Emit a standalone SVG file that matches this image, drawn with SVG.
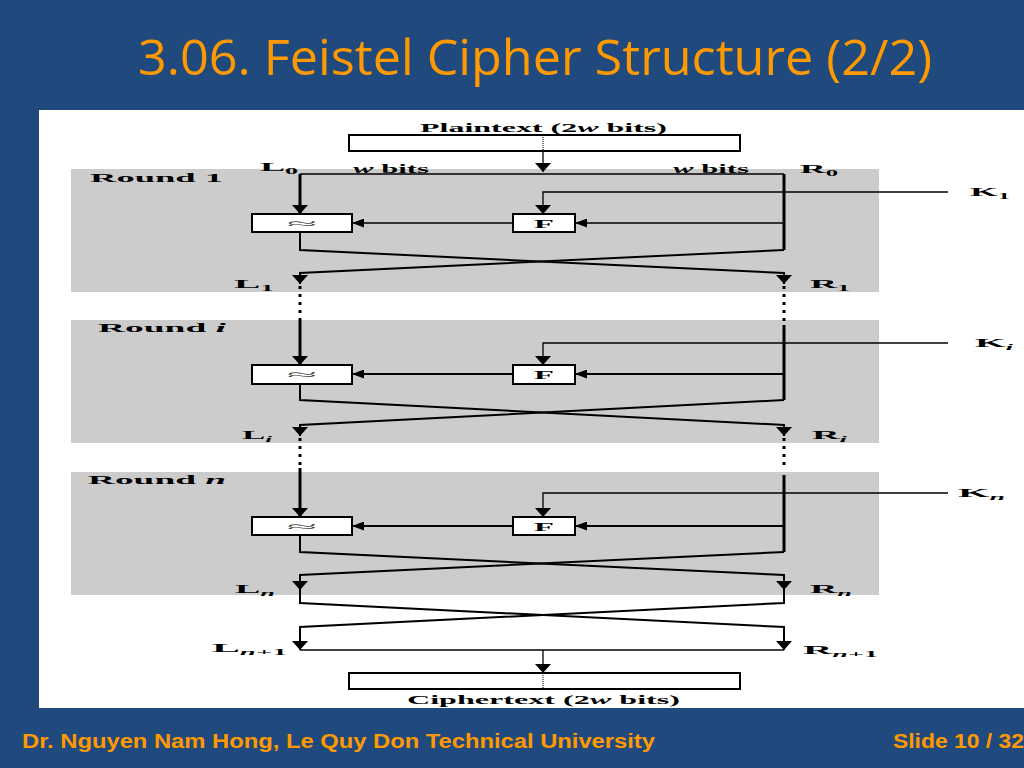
<svg xmlns="http://www.w3.org/2000/svg" width="1024" height="768" viewBox="0 0 1024 768">
<style>
.lbl{font-family:"Liberation Serif","DejaVu Serif",serif;font-weight:bold;font-size:13px;fill:#000}
.xs{font-family:"Liberation Serif","DejaVu Serif",serif;font-size:13px;fill:#444}
.sub{font-size:9px}
.it{font-style:italic}
.round{fill:#cccccc}
.box{fill:#fff;stroke:#000;stroke-width:2}
.thick{fill:none;stroke:#000;stroke-width:3}
.mid{fill:none;stroke:#000;stroke-width:2}
.thin{fill:none;stroke:#000;stroke-width:1.3}
.dash{fill:none;stroke:#000;stroke-width:3;stroke-dasharray:3 5}
.dot{fill:none;stroke:#000;stroke-width:1;stroke-dasharray:1 1}
</style>
<defs>
<marker id="ad" viewBox="0 0 9 16" refX="9" refY="8" markerWidth="9" markerHeight="16" markerUnits="userSpaceOnUse" orient="auto">
<path d="M0,0 L9,8 L0,16 z" fill="#000"/>
</marker>
<marker id="al" viewBox="0 0 12 9" refX="12" refY="4.5" markerWidth="12" markerHeight="9" markerUnits="userSpaceOnUse" orient="auto">
<path d="M0,0 L12,4.5 L0,9 z" fill="#000"/>
</marker>
</defs>
<rect x="0" y="0" width="1024" height="768" fill="#204a7e"/>
<text x="138" y="75" font-family="'Open Sans','Noto Sans',sans-serif" font-size="49" fill="#ff9900" textLength="794" lengthAdjust="spacingAndGlyphs">3.06. Feistel Cipher Structure (2/2)</text>
<rect x="39" y="110" width="985" height="598" fill="#fff"/>

<g id="round1"><rect class="round" x="71" y="169" width="808" height="123"/><text class="lbl" x="90" y="182" textLength="133" lengthAdjust="spacingAndGlyphs">Round 1</text></g>
<g id="roundi"><rect class="round" x="71" y="320" width="808" height="123"/><text class="lbl" x="98" y="332" textLength="128" lengthAdjust="spacingAndGlyphs">Round <tspan class="it">i</tspan></text></g>
<g id="roundn"><rect class="round" x="71" y="472" width="808" height="123"/><text class="lbl" x="88" y="484" textLength="138" lengthAdjust="spacingAndGlyphs">Round <tspan class="it">n</tspan></text></g>

<g id="plaintext">
<text class="lbl" x="420" y="132" textLength="247" lengthAdjust="spacingAndGlyphs">Plaintext (2<tspan class="it">w</tspan> bits)</text>
<rect class="box" x="349" y="135" width="391" height="16"/>
<line class="dot" x1="543" y1="137" x2="543" y2="150"/>
</g>
<g id="ciphertext">
<rect class="box" x="349" y="673" width="391" height="16"/>
<line class="dot" x1="543" y1="675" x2="543" y2="688"/>
<text class="lbl" x="407" y="704" textLength="273" lengthAdjust="spacingAndGlyphs">Ciphertext (2<tspan class="it">w</tspan> bits)</text>
</g>

<g id="xor1"><rect class="box" x="252" y="214" width="100" height="18"/><text class="xs" x="302" y="228" text-anchor="middle" textLength="30" lengthAdjust="spacingAndGlyphs">≈</text></g>
<g id="f1"><rect class="box" x="513" y="214" width="62" height="18"/><text class="lbl" x="544" y="228" font-size="15" text-anchor="middle" textLength="20" lengthAdjust="spacingAndGlyphs">F</text></g>
<g id="xori"><rect class="box" x="252" y="365" width="100" height="19"/><text class="xs" x="302" y="379" text-anchor="middle" textLength="30" lengthAdjust="spacingAndGlyphs">≈</text></g>
<g id="fi"><rect class="box" x="513" y="365" width="62" height="19"/><text class="lbl" x="544" y="379" font-size="15" text-anchor="middle" textLength="20" lengthAdjust="spacingAndGlyphs">F</text></g>
<g id="xorn"><rect class="box" x="252" y="517" width="100" height="18"/><text class="xs" x="302" y="531" text-anchor="middle" textLength="30" lengthAdjust="spacingAndGlyphs">≈</text></g>
<g id="fn"><rect class="box" x="513" y="517" width="62" height="18"/><text class="lbl" x="544" y="531" font-size="15" text-anchor="middle" textLength="20" lengthAdjust="spacingAndGlyphs">F</text></g>

<g id="labels">
<text class="lbl" x="353" y="173" textLength="76" lengthAdjust="spacingAndGlyphs"><tspan class="it">w</tspan> bits</text>
<text class="lbl" x="673" y="173" textLength="76" lengthAdjust="spacingAndGlyphs"><tspan class="it">w</tspan> bits</text>
<text class="lbl" x="260" y="171" textLength="38" lengthAdjust="spacingAndGlyphs">L<tspan class="sub" dy="3">0</tspan></text>
<text class="lbl" x="800" y="173" textLength="38" lengthAdjust="spacingAndGlyphs">R<tspan class="sub" dy="3">0</tspan></text>
<text class="lbl" x="970" y="196" textLength="40" lengthAdjust="spacingAndGlyphs">K<tspan class="sub" dy="3">1</tspan></text>
<text class="lbl" x="975" y="347" textLength="38" lengthAdjust="spacingAndGlyphs">K<tspan class="sub it" dy="3">i</tspan></text>
<text class="lbl" x="958" y="497" textLength="47" lengthAdjust="spacingAndGlyphs">K<tspan class="sub it" dy="3">n</tspan></text>
<text class="lbl" x="234" y="288" textLength="40" lengthAdjust="spacingAndGlyphs">L<tspan class="sub" dy="3">1</tspan></text>
<text class="lbl" x="810" y="288" textLength="40" lengthAdjust="spacingAndGlyphs">R<tspan class="sub" dy="3">1</tspan></text>
<text class="lbl" x="242" y="439" textLength="30" lengthAdjust="spacingAndGlyphs">L<tspan class="sub it" dy="3">i</tspan></text>
<text class="lbl" x="812" y="439" textLength="35" lengthAdjust="spacingAndGlyphs">R<tspan class="sub it" dy="3">i</tspan></text>
<text class="lbl" x="235" y="593" textLength="40" lengthAdjust="spacingAndGlyphs">L<tspan class="sub it" dy="3">n</tspan></text>
<text class="lbl" x="810" y="593" textLength="42" lengthAdjust="spacingAndGlyphs">R<tspan class="sub it" dy="3">n</tspan></text>
<text class="lbl" x="212" y="652" textLength="75" lengthAdjust="spacingAndGlyphs">L<tspan class="sub" dy="3"><tspan class="it">n</tspan>+1</tspan></text>
<text class="lbl" x="803" y="654" textLength="75" lengthAdjust="spacingAndGlyphs">R<tspan class="sub" dy="3"><tspan class="it">n</tspan>+1</tspan></text>
</g>

<g id="connectors">
<line class="thin" x1="543" y1="151" x2="543" y2="172" marker-end="url(#ad)"/>
<line class="thin" x1="300" y1="174" x2="784" y2="174"/>
<!-- round 1 -->
<line class="thick" x1="300" y1="174" x2="300" y2="214" marker-end="url(#ad)"/>
<polyline class="thin" points="948,192 543,192 543,214" marker-end="url(#ad)"/>
<line class="thick" x1="784" y1="174" x2="784" y2="250"/>
<line class="thin" x1="784" y1="223" x2="575" y2="223" marker-end="url(#al)"/>
<line class="thin" x1="513" y1="223" x2="352" y2="223" marker-end="url(#al)"/>
<polyline class="mid" points="300,232 300,250 784,273 784,284" marker-end="url(#ad)"/>
<polyline class="mid" points="784,250 300,273 300,284" marker-end="url(#ad)"/>
<line class="dash" x1="300" y1="286" x2="300" y2="318"/>
<line class="dash" x1="784" y1="286" x2="784" y2="322"/>
<!-- round i -->
<line class="thick" x1="300" y1="318" x2="300" y2="365" marker-end="url(#ad)"/>
<polyline class="thin" points="948,343 543,343 543,365" marker-end="url(#ad)"/>
<line class="thick" x1="784" y1="325" x2="784" y2="400"/>
<line class="mid" x1="784" y1="374" x2="575" y2="374" marker-end="url(#al)"/>
<line class="mid" x1="513" y1="374" x2="352" y2="374" marker-end="url(#al)"/>
<polyline class="mid" points="300,384 300,400 784,425 784,436" marker-end="url(#ad)"/>
<polyline class="mid" points="784,400 300,425 300,436" marker-end="url(#ad)"/>
<line class="dash" x1="300" y1="438" x2="300" y2="470"/>
<line class="dash" x1="784" y1="438" x2="784" y2="470"/>
<!-- round n -->
<line class="thick" x1="300" y1="468" x2="300" y2="517" marker-end="url(#ad)"/>
<polyline class="thin" points="948,493 543,493 543,517" marker-end="url(#ad)"/>
<line class="thick" x1="784" y1="475" x2="784" y2="552"/>
<line class="mid" x1="784" y1="526" x2="575" y2="526" marker-end="url(#al)"/>
<line class="mid" x1="513" y1="526" x2="352" y2="526" marker-end="url(#al)"/>
<polyline class="mid" points="300,535 300,552 784,575 784,590" marker-end="url(#ad)"/>
<polyline class="mid" points="784,552 300,575 300,590" marker-end="url(#ad)"/>
<!-- final swap -->
<polyline class="mid" points="300,588 300,603 784,627 784,650" marker-end="url(#ad)"/>
<polyline class="mid" points="784,588 784,603 300,627 300,650" marker-end="url(#ad)"/>
<line class="thin" x1="300" y1="650" x2="784" y2="650"/>
<line class="thin" x1="543" y1="650" x2="543" y2="673" marker-end="url(#ad)"/>
</g>

<text x="22" y="748" font-family="'Liberation Sans',Arial,sans-serif" font-weight="bold" font-size="20" fill="#ff9900" textLength="633" lengthAdjust="spacingAndGlyphs">Dr. Nguyen Nam Hong, Le Quy Don Technical University</text>
<text x="893" y="748" font-family="'Liberation Sans',Arial,sans-serif" font-weight="bold" font-size="20" fill="#ff9900" textLength="131" lengthAdjust="spacingAndGlyphs">Slide 10 / 32</text>
</svg>
